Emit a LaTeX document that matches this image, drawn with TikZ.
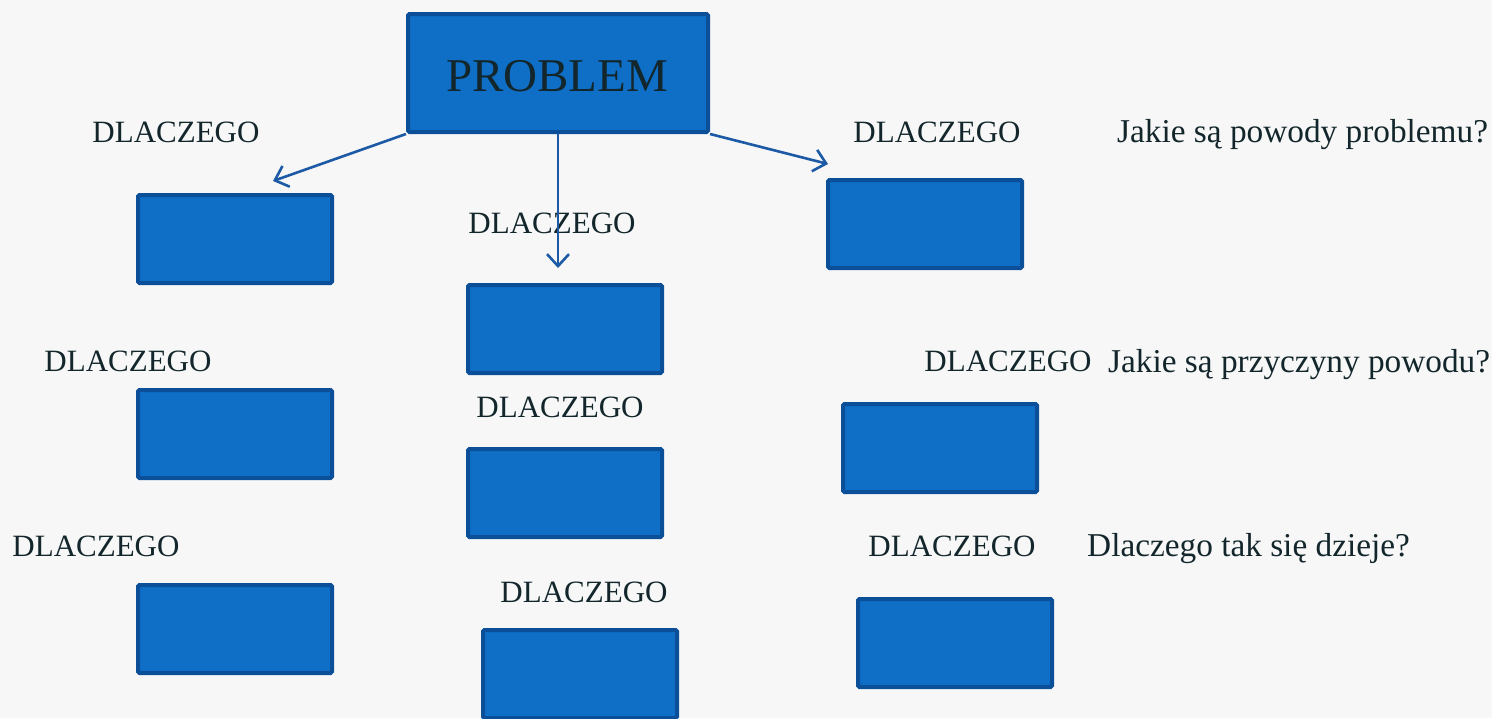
\documentclass[tikz,border=0pt]{standalone}
\usepackage{fontspec}
\setmainfont{Liberation Serif}
\usetikzlibrary{arrows.meta}
\definecolor{bg}{HTML}{F7F7F7}
\definecolor{boxfill}{HTML}{0F6FC6}
\definecolor{boxline}{HTML}{0B4F99}
\definecolor{arrowcol}{HTML}{1D5AA6}
\definecolor{txt}{HTML}{12262B}
\begin{document}
\begin{tikzpicture}[x=1pt,y=-1pt,
  bluebox/.style={draw=boxline,fill=boxfill,line width=4pt,rounded corners=1.5pt,
    minimum width=194pt,minimum height=88pt,inner sep=0pt},
  lbl/.style={text=txt,font=\fontsize{31}{36}\selectfont,anchor=base,inner sep=0pt},
  qlbl/.style={text=txt,font=\fontsize{33.3}{38}\selectfont,anchor=base west,inner sep=0pt},
  conn/.style={draw=arrowcol,line width=2.6pt,-{Straight Barb[length=12pt,width=22pt,line width=2.6pt]}}]
\useasboundingbox (0,0) rectangle (1492,718);
\clip (0,0) rectangle (1492,718);
\fill[bg] (0,0) rectangle (1492,718);
% problem
\node[bluebox,minimum width=300pt,minimum height=118pt] (prob) at (558,73) {};
\node[text=txt,font=\fontsize{47}{52}\selectfont,anchor=base,inner sep=0pt] (probt) at (557,91) {PROBLEM};
% boxes
\node[bluebox] (l1) at (235,239) {};
\node[bluebox] (l2) at (235,434) {};
\node[bluebox] (l3) at (235,629) {};
\node[bluebox] (m1) at (565,329) {};
\node[bluebox] (m2) at (565,493) {};
\node[bluebox] (m3) at (580,674) {};
\node[bluebox] (r1) at (925,224) {};
\node[bluebox] (r2) at (940,448) {};
\node[bluebox] (r3) at (955,643) {};
% labels
\node[lbl] (tl1) at (176,142) {DLACZEGO};
\node[lbl] (tr1) at (937,142) {DLACZEGO};
\node[lbl] (tm1) at (552,233) {DLACZEGO};
\node[lbl] (tl2) at (128,371) {DLACZEGO};
\node[lbl] (tm2) at (560,417) {DLACZEGO};
\node[lbl] (tr2) at (1008,371) {DLACZEGO};
\node[lbl] (tl3) at (96,556) {DLACZEGO};
\node[lbl] (tr3) at (952,556) {DLACZEGO};
\node[lbl] (tm3) at (584,602) {DLACZEGO};
\node[qlbl] (q1) at (1117,142) {Jakie są powody problemu?};
\node[qlbl] (q2) at (1108,372) {Jakie są przyczyny powodu?};
\node[qlbl] (q3) at (1087,556) {Dlaczego tak się dzieje?};
% arrows
\coordinate (a1) at (273,181);
\coordinate (a2) at (558,268);
\coordinate (a3) at (828,164);
\draw[conn] (prob.south west) -- (a1);
\draw[conn] (prob.south) -- (a2);
\draw[conn] (prob.south east) -- (a3);
\end{tikzpicture}
\end{document}
